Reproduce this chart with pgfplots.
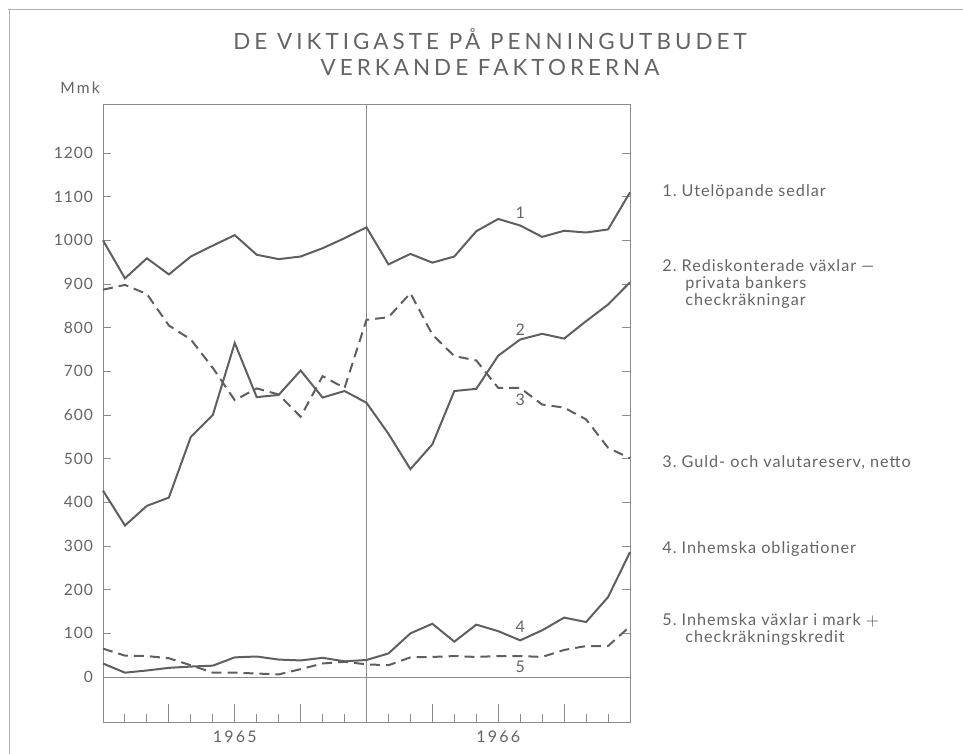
\documentclass[border=0pt]{standalone}
\usepackage{pgfplots}
\pgfplotsset{compat=1.18}
\usepackage{fontspec}
\setmainfont{Lato}
\newfontfamily\titlefont[LetterSpace=18]{Lato}
\newfontfamily\labfont[LetterSpace=6]{Lato}
\newfontfamily\mmkfont[LetterSpace=14]{Lato}
\newfontfamily\yearfont[LetterSpace=14]{Lato}
\definecolor{linec}{RGB}{95,95,95}
\definecolor{textc}{RGB}{100,100,100}
\definecolor{axisc}{RGB}{140,140,140}
\definecolor{framec}{RGB}{175,175,175}
\pgfplotstableread{
x s1 s2 s3 s4 s5
0 1000 427 887 31 65
1 913 347 898 10 49
2 959 392 877 15 48
3 922 411 805 21 43
4 963 550 773 24 27
5 988 600 708 26 10
6 1012 765 634 45 10
7 967 641 661 47 8
8 957 646 647 40 6
9 963 702 596 38 18
10 982 640 689 44 31
11 1005 655 662 36 35
12 1030 628 818 39 29
13 945 557 824 54 27
14 969 476 879 100 45
15 949 533 784 122 46
16 963 655 735 81 48
17 1021 660 725 120 46
18 1049 736 662 105 48
19 1034 773 662 84 48
20 1008 786 624 107 46
21 1022 775 617 136 62
22 1018 815 590 126 71
23 1025 853 525 183 71
24 1110 904 501 286 116
}\datatable
\begin{document}
\begin{tikzpicture}
\path[use as bounding box] (0,0) rectangle (481.5pt,-377pt);
\draw[framec, line width=0.5pt] (4pt,-4.7pt) -- (481.5pt,-4.7pt);
\draw[framec, line width=0.5pt] (4.7pt,-4.7pt) -- (4.7pt,-377pt);
\begin{axis}[
  at={(51.5pt,-361pt)}, anchor=south west,
  scale only axis, width=263.5pt, height=308.5pt,
  xmin=0, xmax=24, ymin=-103, ymax=1310,
  axis line style={draw=axisc, line width=0.5pt},
  every tick/.style={draw=axisc, line width=0.5pt},
  tick align=inside,
  major tick length=4pt, minor tick length=9pt,
  xtick={1,2,4,5,7,8,10,11,13,14,16,17,19,20,22,23},
  minor xtick={3,6,9,15,18,21},
  xticklabels={},
  xtick pos=bottom,
  ytick={0,100,...,1200},
  ytick pos=both,
  yticklabel pos=left,
  yticklabel style={font=\labfont\fontsize{7.8pt}{9pt}\selectfont, text=textc, xshift=-1.5pt},
  /pgf/number format/assume math mode=true,
  /pgf/number format/1000 sep={},
  clip=false,
]
\addplot[axisc, line width=0.5pt] coordinates {(12,-103) (12,1310)};
\addplot[axisc, line width=0.5pt] coordinates {(0,0) (24,0)};
\addplot[linec, line width=1pt] table[x=x,y=s1] {\datatable};
\addplot[linec, line width=1pt] table[x=x,y=s2] {\datatable};
\addplot[linec, line width=1pt, dash pattern=on 5pt off 3pt] table[x=x,y=s3] {\datatable};
\addplot[linec, line width=1pt] table[x=x,y=s4] {\datatable};
\addplot[linec, line width=1pt, dash pattern=on 5pt off 3pt] table[x=x,y=s5] {\datatable};
\begin{scope}[every node/.style={font=\labfont\fontsize{8pt}{9pt}\selectfont, text=textc}]
\node at (axis cs:19,1063) {1};
\node at (axis cs:19,796) {2};
\node at (axis cs:19,636) {3};
\node at (axis cs:19,114) {4};
\node at (axis cs:19,23) {5};
\end{scope}
\node[font=\yearfont\fontsize{8pt}{9pt}\selectfont, text=textc] at (axis cs:6,-136) {1965};
\node[font=\yearfont\fontsize{8pt}{9pt}\selectfont, text=textc] at (axis cs:18,-136) {1966};
\end{axis}
\begin{scope}[x=0.5pt, y=-0.5pt]
\node[font=\titlefont\fontsize{11.2pt}{13pt}\selectfont, text=textc] at (490,39) {DE VIKTIGASTE PÅ PENNINGUTBUDET};
\node[font=\titlefont\fontsize{11.2pt}{13pt}\selectfont, text=textc] at (490,67) {VERKANDE FAKTORERNA};
\node[font=\mmkfont\fontsize{7.8pt}{9pt}\selectfont, text=textc, anchor=mid west, inner sep=0pt] at (60,88) {Mmk};
\begin{scope}[every node/.style={font=\labfont\fontsize{8.1pt}{9pt}\selectfont, text=textc, anchor=mid west, inner sep=0pt}]
\node at (662,191) {1.\ Utelöpande sedlar};
\node at (662,266) {2.\ Rediskonterade växlar —};
\node at (685,283) {privata bankers};
\node at (685,300) {checkräkningar};
\node at (662,462) {3.\ Guld- och valutareserv, netto};
\node at (662,548) {4.\ Inhemska obligationer};
\node at (662,620) {5.\ Inhemska växlar i mark $+$};
\node at (685,637) {checkräkningskredit};
\end{scope}
\end{scope}
\end{tikzpicture}
\end{document}
